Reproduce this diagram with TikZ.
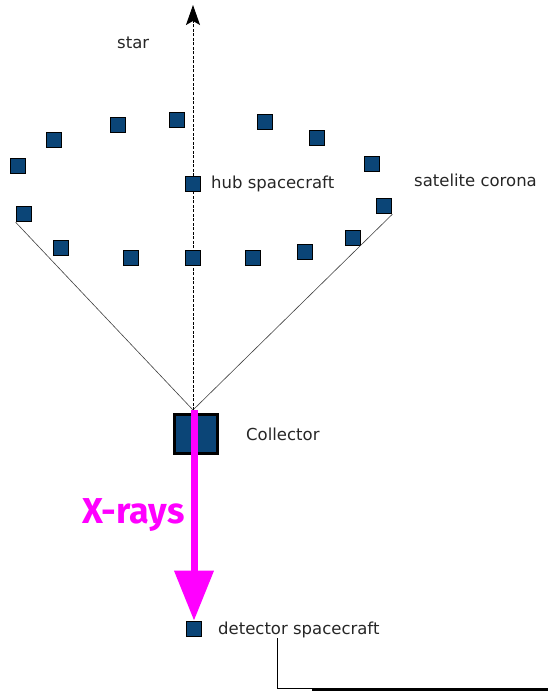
\documentclass[tikz,border=0pt]{standalone}
\usepackage{fontspec}
\setmainfont{DejaVu Sans}
\newfontfamily\rayfont{Fira Sans}
\usetikzlibrary{arrows.meta}
\definecolor{craftblue}{HTML}{0B4577}
\definecolor{raymag}{HTML}{FF00FF}
\tikzset{
  craft/.style={draw=black, fill=craftblue, line width=1.6pt, minimum size=15pt, inner sep=0pt},
  bigcraft/.style={draw=black, fill=craftblue, line width=3pt, minimum width=43pt, minimum height=39pt, inner sep=0pt},
  lbl/.style={font=\fontsize{16.5}{19}\selectfont, anchor=west, inner sep=0pt, text=black!85},
  cone/.style={draw=black!75, line width=0.6pt},
  axis/.style={draw=black, line width=0.9pt, dash pattern=on 3pt off 1.5pt, -{Stealth[length=20pt, width=14pt, inset=4pt]}},
  ray/.style={draw=raymag, line width=7pt, -{Triangle[length=50pt, width=38pt]}}
}
\begin{document}
\begin{tikzpicture}[x=1pt, y=-1pt]
  \useasboundingbox (0,0) rectangle (548,693);

  % satellite corona
  \node[craft] (s1)  at (18,166)  {};
  \node[craft] (s2)  at (54,140)  {};
  \node[craft] (s3)  at (118,125) {};
  \node[craft] (s4)  at (177,120) {};
  \node[craft] (s5)  at (265,122) {};
  \node[craft] (s6)  at (317,138) {};
  \node[craft] (s7)  at (372,164) {};
  \node[craft] (s8)  at (384,206) {};
  \node[craft] (s9)  at (353,238) {};
  \node[craft] (s10) at (305,252) {};
  \node[craft] (s11) at (253,258) {};
  \node[craft] (s13) at (131,258) {};
  \node[craft] (s14) at (61,248)  {};
  \node[craft] (s15) at (24,214)  {};

  % collector and line of sight to the star
  \node[bigcraft] (coll) at (196,434) {};
  \coordinate (star) at (193,5);
  \coordinate (apex) at (193,410);
  \draw[cone] (apex) -- (s15.south west);
  \draw[cone] (apex) -- (s8.south east);
  \draw[axis] (apex) -- (star);

  \node[craft] (hub) at (193,184) {};
  \node[craft] (s12) at (193,258) {};

  % detector and the X-ray path
  \node[craft] (det) at (194,629) {};
  \coordinate (rayfrom) at (194,410);
  \draw[ray] (rayfrom) -- (det.north);

  % detector cable
  \coordinate (c0) at (277,638);
  \coordinate (c1) at (277,688);
  \coordinate (c2) at (548,688);
  \coordinate (c3) at (312,690);
  \coordinate (c4) at (548,690);
  \draw[line width=1pt] (c0) -- (c1) -- (c2);
  \draw[line width=1.4pt] (c3) -- (c4);

  % labels
  \node[lbl] (tstar) at (117,43) {star};
  \node[lbl] (thub) at (211,184) {hub spacecraft};
  \node[lbl] (tcor) at (414,180) {satelite corona};
  \node[lbl] (tcol) at (246,434) {Collector};
  \node[lbl] (tdet) at (218,630) {detector spacecraft};
  \node[anchor=west, inner sep=0pt, text=raymag, font=\rayfont\bfseries\fontsize{36}{42}\selectfont] (trays) at (82,515) {X-rays};
\end{tikzpicture}
\end{document}
